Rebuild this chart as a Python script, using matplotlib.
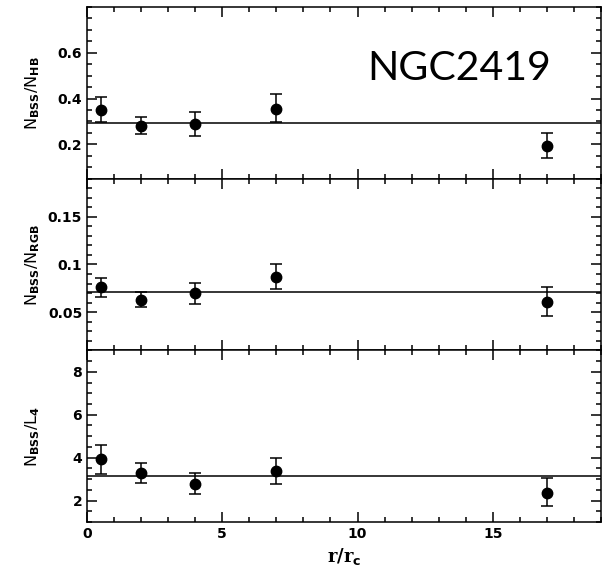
import matplotlib
matplotlib.use('Agg')
import matplotlib.pyplot as plt
from matplotlib.ticker import MultipleLocator

plt.rcParams['font.family'] = 'DejaVu Sans'
plt.rcParams['font.weight'] = 'bold'
plt.rcParams['mathtext.fontset'] = 'custom'
plt.rcParams['mathtext.rm'] = 'DejaVu Sans:bold'
plt.rcParams['mathtext.it'] = 'DejaVu Sans:bold'
plt.rcParams['mathtext.bf'] = 'DejaVu Sans:bold'
plt.rcParams['mathtext.default'] = 'rm'

# radial bins (r/r_c)
r = [0.5, 2, 4, 7, 17]

# N_BSS / N_HB
hb = [0.350, 0.279, 0.288, 0.355, 0.193]
hb_lo = [0.053, 0.036, 0.052, 0.058, 0.054]
hb_hi = [0.055, 0.041, 0.052, 0.064, 0.056]
hb_ref = 0.292

# N_BSS / N_RGB
rgb = [0.0759, 0.0631, 0.0700, 0.0869, 0.0610]
rgb_lo = [0.0104, 0.0072, 0.0114, 0.0131, 0.0151]
rgb_hi = [0.0103, 0.0076, 0.0103, 0.0138, 0.0156]
rgb_ref = 0.0714

# N_BSS / L_4
lum = [3.94, 3.30, 2.79, 3.39, 2.37]
lum_lo = [0.70, 0.48, 0.47, 0.63, 0.63]
lum_hi = [0.64, 0.43, 0.48, 0.59, 0.67]
lum_ref = 3.16

panels = [
    (hb, hb_lo, hb_hi, hb_ref, (0.05, 0.8), 0.05, r'N$_{\rm BSS}$/N$_{\rm HB}$', ['0.2', '0.4', '0.6']),
    (rgb, rgb_lo, rgb_hi, rgb_ref, (0.01, 0.19), 0.01, r'N$_{\rm BSS}$/N$_{\rm RGB}$', ['0.05', '0.1', '0.15']),
    (lum, lum_lo, lum_hi, lum_ref, (1, 9), 0.5, r'N$_{\rm BSS}$/L$_{\rm 4}$', ['2', '4', '6', '8']),
]

fig, axes = plt.subplots(3, 1, figsize=(6.02, 5.72), dpi=100, sharex=True)
fig.subplots_adjust(left=0.1445, right=0.9983, top=0.9878, bottom=0.0874, hspace=0)

for ax, (y, lo, hi, ref, ylim, minor, label, ticklabels) in zip(axes, panels):
    ax.errorbar(r, y, yerr=[lo, hi], fmt='o', color='black', ms=7.5,
                capsize=4, elinewidth=1.1, capthick=1.1)
    ax.axhline(ref, color='black', lw=1.1)
    ax.set_xlim(0, 19)
    ax.set_ylim(*ylim)
    ax.xaxis.set_major_locator(MultipleLocator(5))
    ax.xaxis.set_minor_locator(MultipleLocator(1))
    ax.yaxis.set_minor_locator(MultipleLocator(minor))
    ax.set_yticks([float(t) for t in ticklabels])
    ax.set_yticklabels(ticklabels)
    ax.tick_params(which='both', direction='in', top=True, right=True, width=1.1, labelsize=10)
    ax.tick_params(which='major', length=7)
    ax.tick_params(which='minor', length=3.5)
    ax.set_ylabel(label, fontsize=11.5)
    ax.yaxis.set_label_coords(-0.088, 0.5)
    for s in ax.spines.values():
        s.set_linewidth(1.1)

axes[0].text(0.725, 0.64, 'NGC2419', transform=axes[0].transAxes, fontsize=29.5,
             fontfamily='Lato', fontweight='normal', ha='center', va='center')

axes[2].set_xlabel(r'r/r$_{\rm c}$', fontsize=13, fontfamily='DejaVu Serif',
                   fontweight='bold', labelpad=4)

fig.savefig('out.png', dpi=100)
